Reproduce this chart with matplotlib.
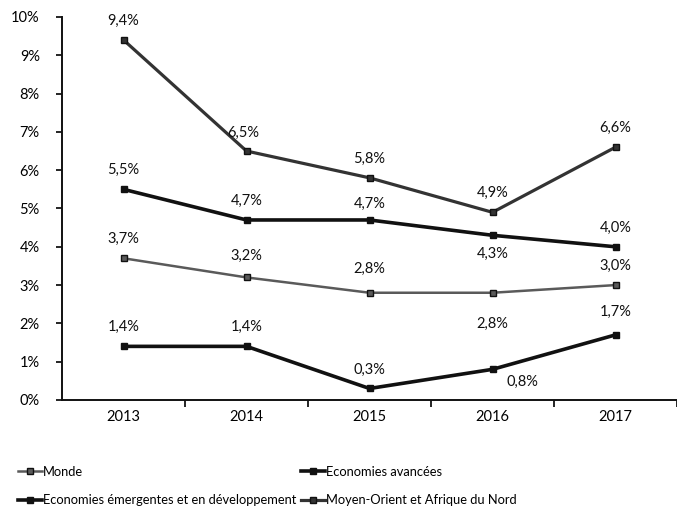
import matplotlib
matplotlib.use("Agg")
import matplotlib.pyplot as plt

plt.rcParams['font.family'] = ['Lato', 'DejaVu Sans']

years = ['2013', '2014', '2015', '2016', '2017']

mena = [9.4, 6.5, 5.8, 4.9, 6.6]
emergentes = [5.5, 4.7, 4.7, 4.3, 4.0]
monde = [3.7, 3.2, 2.8, 2.8, 3.0]
avancees = [1.4, 1.4, 0.3, 0.8, 1.7]

y_ticks = [0, 1, 2, 3, 4, 5, 6, 7, 8, 9, 10]


def fmt(v):
    return f"{v:.1f}".replace('.', ',') + '%'


fig = plt.figure(figsize=(6.77, 5.13), dpi=100)
ax = fig.add_axes([0.0916, 0.2203, 0.9084, 0.7466])

x = range(len(years))

# label offsets in pixels (dx, dy) for each point
up = (0, 19)
series = [
    ('Monde', monde, '#5a5a5a', 1.8, [up, (0, 22), (0, 24), (0, -31), up]),
    ('Economies émergentes et en développement', emergentes, '#111111', 2.6,
     [up, up, (0, 16), (0, -19), up]),
    ('Economies avancées', avancees, '#111111', 2.6,
     [up, up, up, (30, -13), (0, 23)]),
    ('Moyen-Orient et Afrique du Nord', mena, '#333333', 2.3,
     [up, (-3, 18), up, up, up]),
]

handles = {}
for name, vals, col, lw, offs in series:
    h, = ax.plot(x, vals, color=col, lw=lw, marker='s', ms=5,
                 markerfacecolor=col, markeredgecolor='#111111', label=name)
    handles[name] = h
    for i, v in enumerate(vals):
        dx, dy = offs[i]
        ax.annotate(fmt(v), (i, v), xytext=(dx, dy), textcoords='offset pixels',
                    ha='center', va='center', fontsize=10.5, color='#111111')

ax.set_xlim(-0.5, 4.42)
ax.set_ylim(0, 10)
ax.set_yticks(y_ticks)
ax.set_yticklabels([f"{t}%" for t in y_ticks], fontsize=10.5)
ax.set_xticks([0.5, 1.5, 2.5, 3.5, 4.5])
ax.set_xticklabels([])
ax.set_xticks(list(x), minor=True)
ax.set_xticklabels(years, minor=True, fontsize=10.5)
ax.tick_params(axis='x', which='major', length=5, width=1.2, direction='out')
ax.tick_params(axis='x', which='minor', length=0, pad=7)
ax.tick_params(axis='y', length=4, width=1.2, pad=12)
for s in ['top', 'right']:
    ax.spines[s].set_visible(False)
for s in ['left', 'bottom']:
    ax.spines[s].set_linewidth(1.4)
    ax.spines[s].set_color('#111111')

order = ['Monde', 'Economies émergentes et en développement',
         'Economies avancées', 'Moyen-Orient et Afrique du Nord']
fig.legend([handles[n] for n in order], order, loc='upper left',
           bbox_to_anchor=(0.01, 1 - 454 / 513), ncol=2, frameon=False,
           fontsize=9.3, handlelength=1.8, handletextpad=0.1,
           columnspacing=0.4, labelspacing=1.3)

fig.savefig('out.png', dpi=100)
